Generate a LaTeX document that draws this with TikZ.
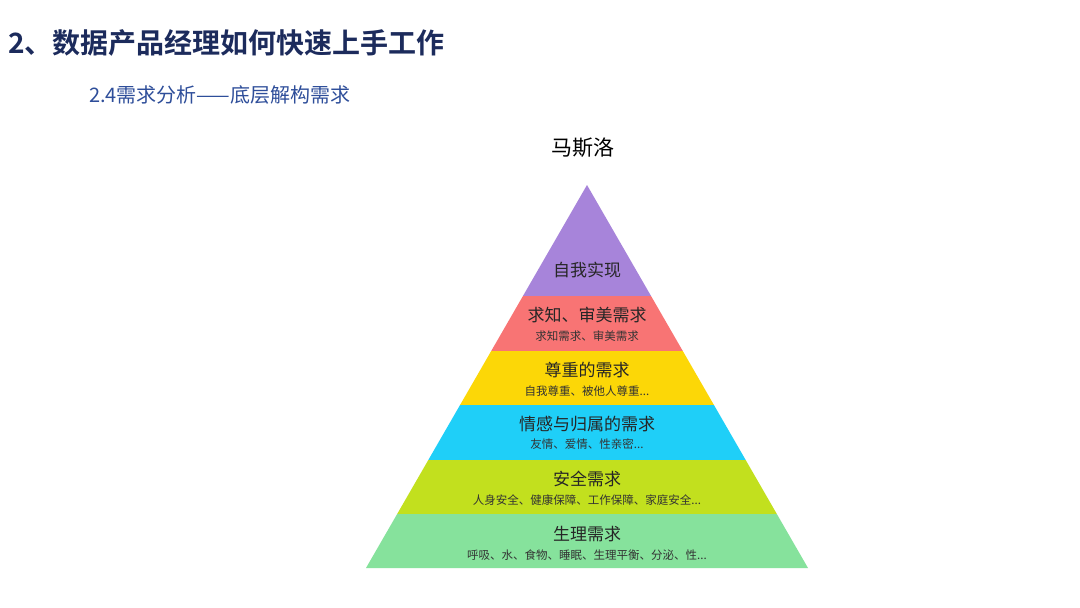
\documentclass[tikz,border=0pt]{standalone}
\usepackage{fontspec}
\newfontfamily\cjk{Noto Sans CJK SC}
\newfontfamily\cjkb{Noto Sans CJK SC Bold}
\definecolor{cpur}{HTML}{A784DA}
\definecolor{cred}{HTML}{F87474}
\definecolor{cyel}{HTML}{FCD707}
\definecolor{ccya}{HTML}{1FCFF8}
\definecolor{clim}{HTML}{C2E01E}
\definecolor{cgrn}{HTML}{86E29C}
\definecolor{ctitle}{HTML}{1C2B5C}
\definecolor{csub}{HTML}{2E4E9A}
\tikzset{
 mainlbl/.style={font=\cjk\fontsize{17}{17}\selectfont, text=black!85, inner sep=0pt},
 sublbl/.style={font=\cjk\fontsize{11.5}{12}\selectfont, text=black!80, inner sep=0pt}
}
\begin{document}
\begin{tikzpicture}[x=1pt,y=-1pt]
\useasboundingbox (0,0) rectangle (1080,608);
\fill[white] (0,0) rectangle (1080,608);
\node[anchor=west, inner sep=0pt, font=\cjkb\fontsize{28}{28}\selectfont, text=ctitle] (title) at (8,43) {2、数据产品经理如何快速上手工作};
\node[anchor=west, inner sep=0pt, font=\cjk\fontsize{20}{20}\selectfont, text=csub] (subtitle) at (89,95) {2.4需求分析——底层解构需求};
\node[inner sep=0pt, font=\cjk\fontsize{21}{21}\selectfont] (maslow) at (583,148) {马斯洛};
\begin{scope}
\clip (587,185) -- (808,568) -- (366,568) -- cycle;
\fill[cpur] (300,180) rectangle (900,296);
\fill[cred] (300,296) rectangle (900,351);
\fill[cyel] (300,351) rectangle (900,405);
\fill[ccya] (300,405) rectangle (900,460);
\fill[clim] (300,460) rectangle (900,514);
\fill[cgrn] (300,514) rectangle (900,570);
\end{scope}
\node[mainlbl] (l6) at (587,270) {自我实现};
\node[mainlbl] (l5) at (587,315) {求知、审美需求};
\node[sublbl] (s5) at (587,336) {求知需求、审美需求};
\node[mainlbl] (l4) at (587,370) {尊重的需求};
\node[sublbl] (s4) at (587,391) {自我尊重、被他人尊重...};
\node[mainlbl] (l3) at (587,424) {情感与归属的需求};
\node[sublbl] (s3) at (587,444) {友情、爱情、性亲密...};
\node[mainlbl] (l2) at (587,479) {安全需求};
\node[sublbl] (s2) at (587,500) {人身安全、健康保障、工作保障、家庭安全...};
\node[mainlbl] (l1) at (587,534) {生理需求};
\node[sublbl] (s1) at (587,555) {呼吸、水、食物、睡眠、生理平衡、分泌、性...};
\end{tikzpicture}
\end{document}
